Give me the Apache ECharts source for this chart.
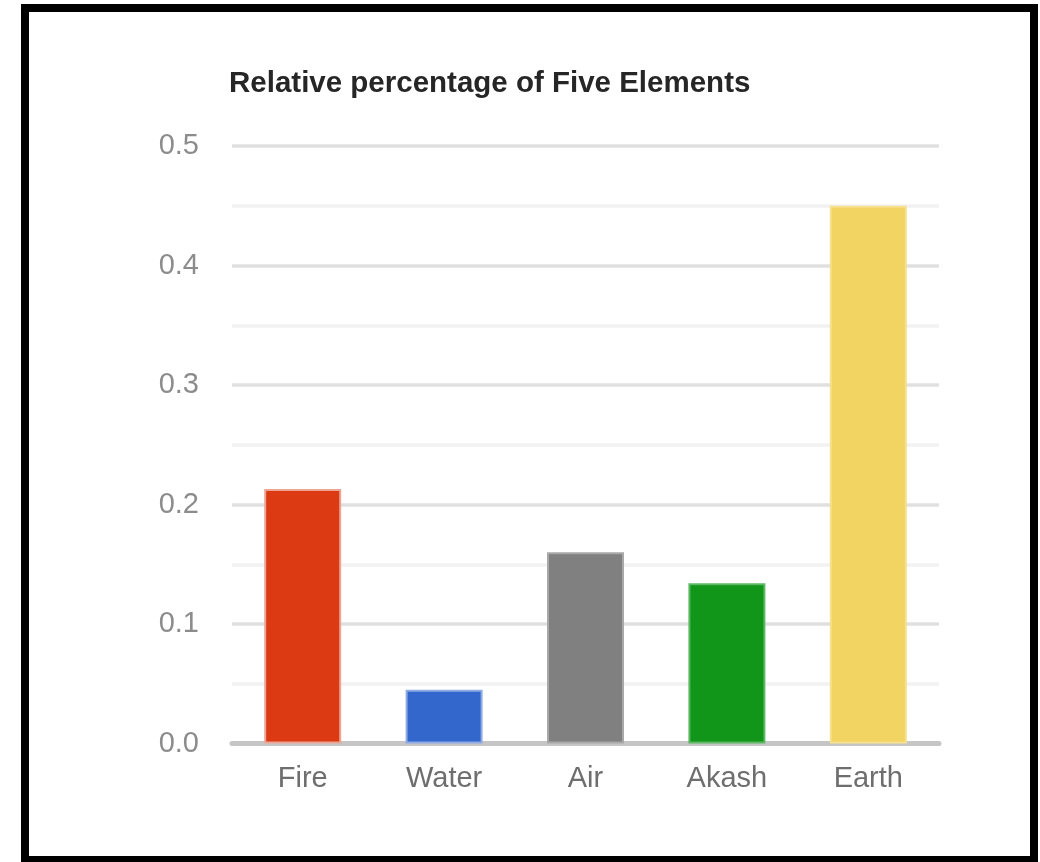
<!DOCTYPE html>
<html>
<head>
<meta charset="utf-8">
<title>Relative percentage of Five Elements</title>
<script src="https://cdn.jsdelivr.net/npm/echarts@6/dist/echarts.min.js"></script>
<style>
  html, body { margin: 0; padding: 0; background: #ffffff; }
  #chart { width: 1040px; height: 862px; }
</style>
</head>
<body>
<div id="chart"></div>
<script>
// Chart data
const elements = ['Fire', 'Water', 'Air', 'Akash', 'Earth'];
const shares = [0.213, 0.045, 0.16, 0.134, 0.45];
const barColors = ['#dc3a13', '#3367cc', '#808080', '#11961a', '#f2d462'];
const edgeColors = ['#eca595', '#8eaae4', '#a8a8a8', '#5cb862', '#f6e08c'];
const yTicks = [0, 0.1, 0.2, 0.3, 0.4, 0.5];

const FONT = '"Liberation Sans", Arial, sans-serif';

const chart = echarts.init(document.getElementById('chart'), null, { renderer: 'canvas' });

chart.setOption({
  backgroundColor: '#ffffff',
  animation: false,
  title: {
    text: 'Relative percentage of Five Elements',
    left: 229,
    top: 69,
    padding: 0,
    textStyle: {
      fontFamily: FONT,
      fontSize: 29.5,
      fontWeight: 'bold',
      color: '#262626'
    }
  },
  graphic: [{
    type: 'rect',
    shape: { x: 25, y: 8, width: 1009, height: 852 },
    style: { fill: 'none', stroke: '#000000', lineWidth: 8 },
    silent: true,
    z: 100
  }],
  grid: {
    left: 232,
    right: 101,
    top: 146,
    bottom: 118.5
  },
  xAxis: {
    type: 'category',
    data: elements,
    axisTick: { show: false },
    axisLine: { show: true, lineStyle: { color: '#c6c6c6', width: 5 } },
    axisLabel: {
      margin: 21,
      fontFamily: FONT,
      fontSize: 29,
      color: '#6e6e6e'
    },
    splitLine: { show: false }
  },
  yAxis: {
    type: 'value',
    min: yTicks[0],
    max: yTicks[yTicks.length - 1],
    interval: 0.1,
    axisLine: { show: false },
    axisTick: { show: false },
    axisLabel: {
      margin: 33,
      fontFamily: FONT,
      fontSize: 29,
      color: '#8c8c8c',
      formatter: v => v.toFixed(1)
    },
    splitLine: { show: true, lineStyle: { color: '#e0e0e0', width: 3.5 } },
    minorTick: { show: false, splitNumber: 2 },
    minorSplitLine: { show: true, lineStyle: { color: '#f2f2f2', width: 3.5 } }
  },
  series: [{
    type: 'bar',
    barWidth: 77,
    data: shares.map((v, i) => ({
      value: v,
      itemStyle: {
        color: barColors[i],
        borderColor: edgeColors[i],
        borderWidth: 2
      }
    })),
    z: 3
  }]
});
</script>
</body>
</html>
